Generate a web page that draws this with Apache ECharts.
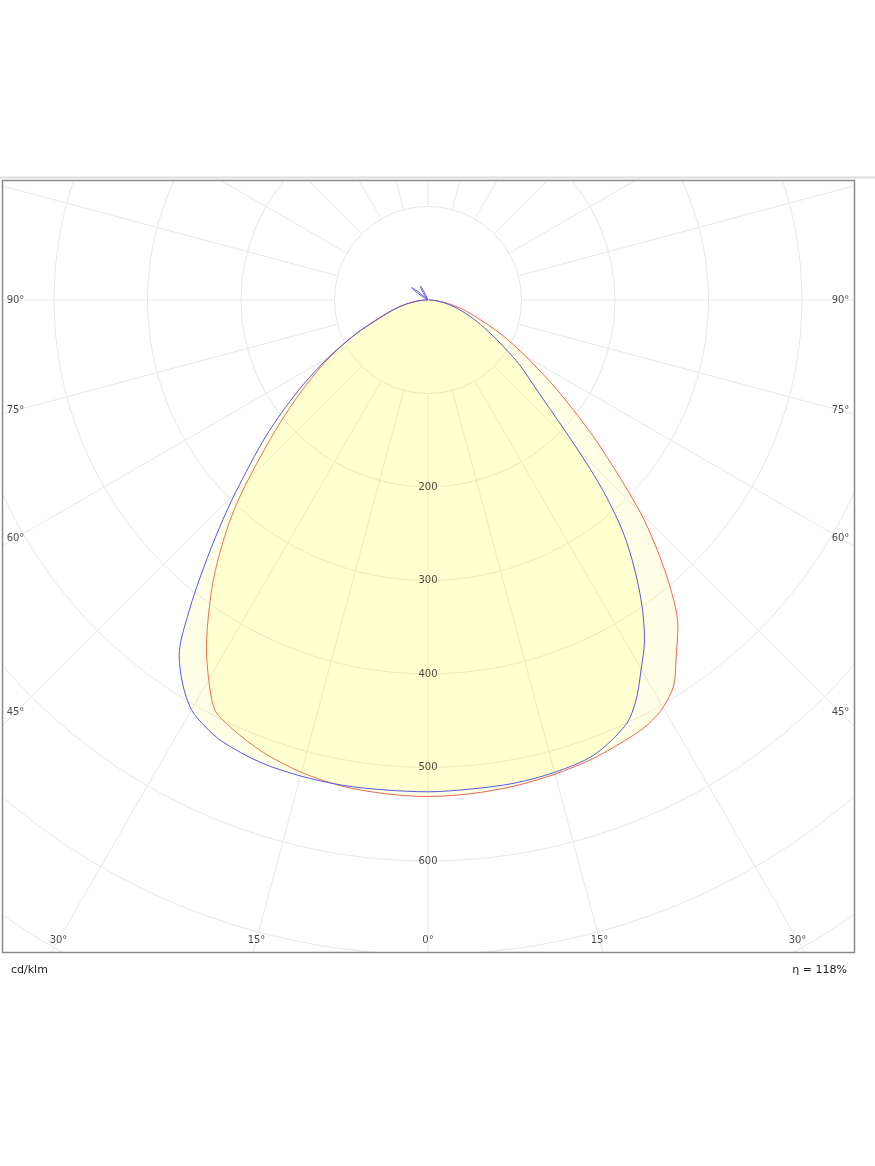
<!DOCTYPE html>
<html><head><meta charset="utf-8">
<script src="https://cdn.jsdelivr.net/npm/echarts@6.0.0/dist/echarts.min.js"></script>
<style>html,body{margin:0;padding:0;background:#fff}#c{width:875px;height:1166px}</style>
</head><body><div id="c"></div>
<script>
// angles from nadir (degrees)
const gammaDeg  = [0,5,10,15,20,25,27.5,30,32.5,35,37.5,40,42.5,45,50,55,60,65,70,75,80,85,90];
// C-plane curves (cd/klm), left half and right half
const blueLeft  = [526,526,527,527,526,521,515,506,488,464,420,373,330,291,226,170,123,84,55,37,23,11,3];
const blueRight = [526,525,525,523,518,501,482,456,431,399,363,325,278,227,155,118,85,62,44,30,18,8,1];
const redLeft   = [531,530,528,523,515,503,494,469,441,409,377,343,309,272,209,160,120,84,52,35,21,9,1];
const redRight  = [531,530,528,525,521,515,511,503,489,463,439,404,363,321,236,170,121,86,57,38,22,10,1];
// small uplight lobe of the blue curve (left, above horizontal)
const blueUpAngles = [100,118,122,125,127,130,134,140,145,148,152,155,160,170];
const blueUpValues = [0,0,8,18,22,15,0,0,6,13,17,9,0,0];
const radiusTicks = [200,300,400,500,600];
const sideAngleTicks = [90,75,60,45];
const bottomAngleTicks = [30,15,0];
const unitLabel = 'cd/klm';
const effLabel = 'η = 118%';

// layout
const CX = 428, CY = 300, PXPER = 0.935, RMAX = 900;
const FRAME = {l:2.5, t:180.5, r:854.5, b:952.5};
const LABEL_DX = 412.5, LABEL_DY = 640;

function buildCurve(left, right, upA, upV) {
  const pts = [];
  for (let i = right.length - 1; i >= 1; i--) pts.push([right[i], -gammaDeg[i]]);
  for (let i = 0; i < left.length; i++) pts.push([left[i], gammaDeg[i]]);
  if (upA) for (let i = 0; i < upA.length; i++) pts.push([upV[i], upA[i]]);
  return pts;
}
const blueData = buildCurve(blueLeft, blueRight, blueUpAngles, blueUpValues);
const redData = buildCurve(redLeft, redRight);

const rLabelData = radiusTicks.map(v => ({value:[v, 0], name:String(v)}));
const aLabelData = [];
sideAngleTicks.forEach(g => {
  const r = LABEL_DX / Math.sin(g*Math.PI/180) / PXPER;
  aLabelData.push({value:[r, g], name:g+'°'});
  aLabelData.push({value:[r, -g], name:g+'°'});
});
bottomAngleTicks.forEach(g => {
  const r = LABEL_DY / Math.cos(g*Math.PI/180) / PXPER;
  aLabelData.push({value:[r, g], name:g+'°'});
  if (g !== 0) aLabelData.push({value:[r, -g], name:g+'°'});
});

const FONT = 'DejaVu Sans';
const gridColor = '#e7e7e7';
const fillColor = 'rgba(255,255,0,0.14)';
const hiddenAxis = {axisLine:{show:false}, axisTick:{show:false}, axisLabel:{show:false}, splitLine:{show:false}};

const chart = echarts.init(document.getElementById('c'), null, {renderer:'canvas'});
chart.setOption({
  animation:false,
  backgroundColor:'#fff',
  polar:[
    {center:[CX, CY], radius:[100*PXPER, RMAX*PXPER]},
    {center:[CX, CY], radius:[0, RMAX*PXPER]}
  ],
  angleAxis:[
    {polarIndex:0, type:'value', min:-180, max:180, interval:15, startAngle:90, clockwise:true,
     axisLine:{show:false}, axisTick:{show:false}, axisLabel:{show:false},
     splitLine:{show:true, lineStyle:{color:gridColor, width:1}}},
    Object.assign({polarIndex:1, type:'value', min:-180, max:180, startAngle:90, clockwise:true}, hiddenAxis)
  ],
  radiusAxis:[
    {polarIndex:0, type:'value', min:100, max:RMAX, interval:100,
     axisLine:{show:false}, axisTick:{show:false}, axisLabel:{show:false},
     splitLine:{show:true, lineStyle:{color:gridColor, width:1}}},
    Object.assign({polarIndex:1, type:'value', min:0, max:RMAX}, hiddenAxis)
  ],
  series:[
    {type:'line', coordinateSystem:'polar', polarIndex:1, data:redData, showSymbol:false, smooth:0.3,
     lineStyle:{color:'#ee6452', width:1}, areaStyle:{color:fillColor}, z:3, silent:true},
    {type:'line', coordinateSystem:'polar', polarIndex:1, data:blueData, showSymbol:false, smooth:0.3,
     lineStyle:{color:'#5858e0', width:1}, areaStyle:{color:fillColor}, z:4, silent:true},
    {type:'scatter', coordinateSystem:'polar', polarIndex:1, data:rLabelData, symbolSize:0, silent:true, z:5,
     label:{show:true, position:'inside', formatter:p=>p.name, color:'#1a1a1a', fontSize:10, fontFamily:FONT}},
    {type:'scatter', coordinateSystem:'polar', polarIndex:1, data:aLabelData, symbolSize:0, silent:true, z:5,
     label:{show:true, position:'inside', formatter:p=>p.name, color:'#1a1a1a', fontSize:10, fontFamily:FONT}}
  ],
  graphic:[
    {type:'rect', z:100, silent:true, shape:{x:0, y:0, width:875, height:FRAME.t}, style:{fill:'#fff'}},
    {type:'rect', z:100, silent:true, shape:{x:0, y:FRAME.b, width:875, height:1166-FRAME.b}, style:{fill:'#fff'}},
    {type:'rect', z:100, silent:true, shape:{x:FRAME.r, y:0, width:875-FRAME.r, height:1166}, style:{fill:'#fff'}},
    {type:'rect', z:100, silent:true, shape:{x:0, y:0, width:FRAME.l, height:1166}, style:{fill:'#fff'}},
    {type:'line', z:101, silent:true, shape:{x1:0, y1:177.5, x2:875, y2:177.5}, style:{stroke:'#dcdcdc', lineWidth:2}},
    {type:'rect', z:101, silent:true, shape:{x:FRAME.l, y:FRAME.t, width:FRAME.r-FRAME.l, height:FRAME.b-FRAME.t},
     style:{fill:null, stroke:'#8a8a8a', lineWidth:1.5}},
    {type:'text', z:101, silent:true, x:11, y:970,
     style:{text:unitLabel, fill:'#222', font:'11px "DejaVu Sans"', textAlign:'left', textVerticalAlign:'middle'}},
    {type:'text', z:101, silent:true, x:847, y:970,
     style:{text:effLabel, fill:'#222', font:'11px "DejaVu Sans"', textAlign:'right', textVerticalAlign:'middle'}}
  ]
});
</script></body></html>
